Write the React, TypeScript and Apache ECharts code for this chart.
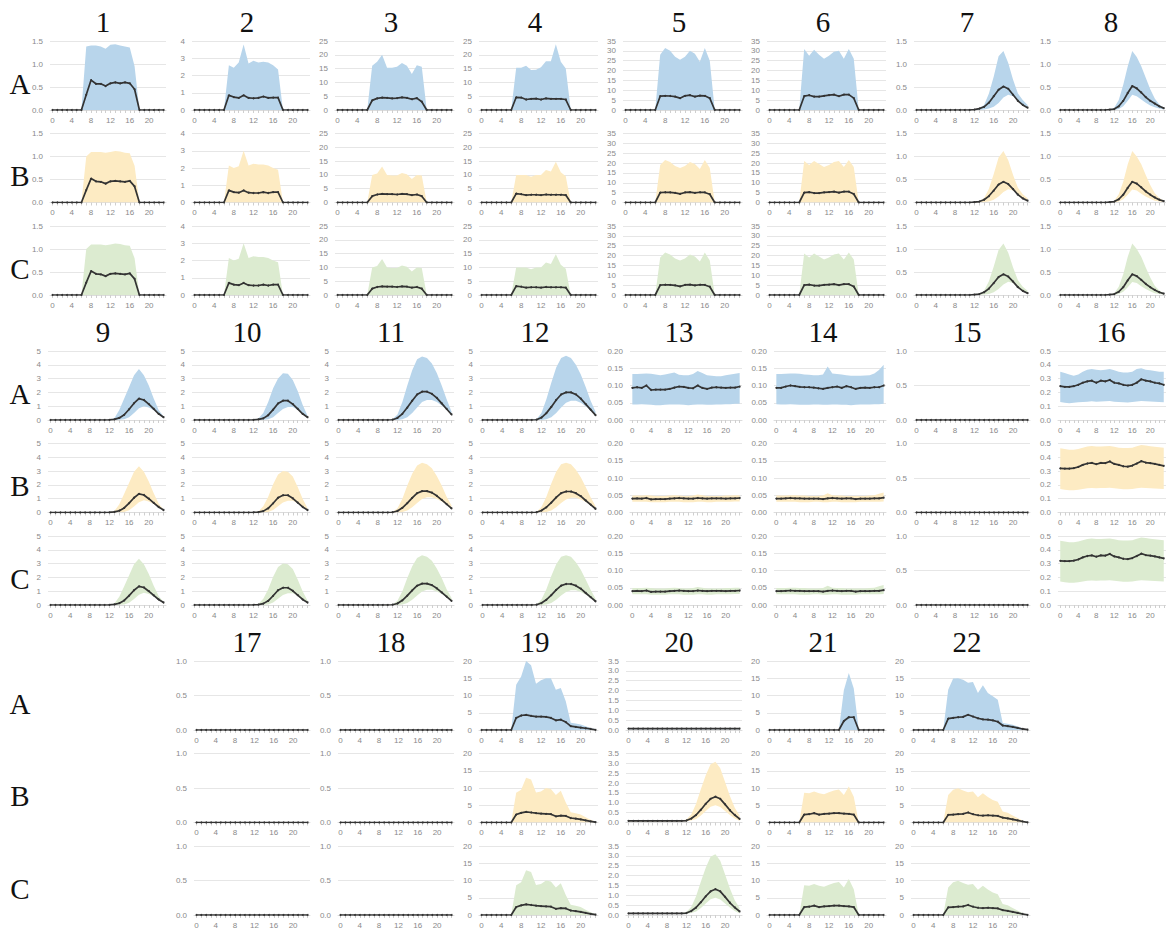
import React, { useEffect, useRef } from 'react';
import * as echarts from 'echarts';

// ---------- categories & axes ----------
const HOURS = ['0','1','2','3','4','5','6','7','8','9','10','11','12','13','14','15','16','17','18','19','20','21','22','23'];
const PANEL_LABELS = ['1','2','3','4','5','6','7','8','9','10','11','12','13','14','15','16','17','18','19','20','21','22'];
const ROW_LABELS = ['A', 'B', 'C'];
const Y_MAX = [1.5, 4, 25, 25, 35, 35, 1.5, 1.5, 5, 5, 5, 5, 0.2, 0.2, 1, 0.5, 1, 1, 20, 3.5, 20, 20];
const Y_STEP = [0.5, 1, 5, 5, 5, 5, 0.5, 0.5, 1, 1, 1, 1, 0.05, 0.05, 0.5, 0.1, 0.5, 0.5, 5, 0.5, 5, 5];

// ---------- data (lower bound, mean, upper bound per hour) ----------
const ZERO = [0,0,0,0,0,0,0,0,0,0,0,0,0,0,0,0,0,0,0,0,0,0,0,0];

const m1A = [0,0,0,0,0,0,0,0.33,0.65,0.57,0.57,0.52,0.58,0.6,0.58,0.6,0.58,0.45,0,0,0,0,0,0];
const hi1A = [0,0,0,0,0,0,0,1.38,1.4,1.4,1.38,1.33,1.42,1.43,1.4,1.38,1.36,0.95,0,0,0,0,0,0];
const m1B = [0,0,0,0,0,0,0,0.27,0.52,0.46,0.45,0.41,0.46,0.47,0.46,0.45,0.47,0.35,0,0,0,0,0,0];
const hi1B = [0,0,0,0,0,0,0,1.0,1.1,1.1,1.1,1.08,1.1,1.12,1.11,1.08,1.07,0.8,0,0,0,0,0,0];

const m2A = [0,0,0,0,0,0,0,0.85,0.75,0.7,0.85,0.7,0.68,0.7,0.78,0.7,0.72,0.72,0,0,0,0,0,0];
const hi2A = [0,0,0,0,0,0,0,2.6,2.45,2.75,3.8,2.7,2.85,2.75,2.8,2.75,2.6,2.35,0,0,0,0,0,0];
const m2B = [0,0,0,0,0,0,0,0.7,0.6,0.57,0.7,0.57,0.55,0.55,0.6,0.55,0.6,0.6,0,0,0,0,0,0];
const hi2B = [0,0,0,0,0,0,0,2.15,2.0,2.1,3.0,2.15,2.25,2.2,2.2,2.15,2.0,1.9,0,0,0,0,0,0];

const m3A = [0,0,0,0,0,0,0,3.5,4.2,4.5,4.4,4.2,4.3,4.6,4.4,3.9,4.3,3.0,0,0,0,0,0,0];
const hi3A = [0,0,0,0,0,0,0,16,17.5,20,15.3,15.3,15.7,17,16,13,16.2,15.7,0,0,0,0,0,0];
const m3B = [0,0,0,0,0,0,0,2.3,2.9,3.1,3.0,3.0,2.9,3.1,3.0,2.7,2.9,2.3,0,0,0,0,0,0];
const hi3B = [0,0,0,0,0,0,0,10,10.5,13,10,9.8,9.8,10.7,10.2,8.5,10,9.8,0,0,0,0,0,0];

const m4A = [0,0,0,0,0,0,0,4.6,4.5,3.8,4.0,4.1,3.8,4.2,4.0,4.0,4.0,3.8,0,0,0,0,0,0];
const hi4A = [0,0,0,0,0,0,0,15.3,15.3,16,14.5,14.6,15.5,17.7,17.7,23.8,17.5,15,0,0,0,0,0,0];
const m4B = [0,0,0,0,0,0,0,3.2,3.0,2.7,2.8,2.8,2.7,2.9,2.8,2.8,2.8,2.7,0,0,0,0,0,0];
const hi4B = [0,0,0,0,0,0,0,10,10,10,9.3,10,10,11.8,11.2,14.8,11,9.5,0,0,0,0,0,0];

const m5A = [0,0,0,0,0,0,0,7,7.2,7.1,6.8,6.0,7.2,7.5,6.8,7.3,7.2,6.0,0,0,0,0,0,0];
const hi5A = [0,0,0,0,0,0,0,28,31.5,30,27,25.5,27,30,28.5,24.5,31.5,25,0,0,0,0,0,0];
const m5B = [0,0,0,0,0,0,0,5,5.2,5.1,4.9,4.4,5.1,5.3,4.9,5.2,5.1,4.2,0,0,0,0,0,0];
const hi5B = [0,0,0,0,0,0,0,19,21.5,20.5,18.5,17.5,18.5,20.5,19.5,17,21.5,17.5,0,0,0,0,0,0];

const m6A = [0,0,0,0,0,0,0,7,7.5,6.8,6.8,7.2,7.5,7.8,7,7.8,7.8,6,0,0,0,0,0,0];
const hi6A = [0,0,0,0,0,0,0,31,27.5,30.5,28,26,27.5,29.5,30,26,31,26,0,0,0,0,0,0];
const m6B = [0,0,0,0,0,0,0,5,5.3,4.8,4.8,5.1,5.3,5.5,5,5.5,5.5,4.3,0,0,0,0,0,0];
const hi6B = [0,0,0,0,0,0,0,21,19,21,19.5,18,19,20.5,21,18,21.5,18,0,0,0,0,0,0];

const lo7A = [0,0,0,0,0,0,0,0,0,0,0,0,0,0,0.01,0.03,0.07,0.15,0.27,0.33,0.3,0.2,0.12,0.06];
const m7A = [0,0,0,0,0,0,0,0,0,0,0,0,0.01,0.03,0.07,0.16,0.3,0.44,0.51,0.46,0.33,0.2,0.11,0.05];
const hi7A = [0,0,0,0,0,0,0,0,0,0,0,0,0.01,0.04,0.11,0.36,0.73,1.17,1.28,1.02,0.66,0.36,0.22,0.11];
const lo7B = [0,0,0,0,0,0,0,0,0,0,0,0,0,0,0.01,0.02,0.06,0.13,0.23,0.29,0.26,0.18,0.1,0.05];
const m7B = [0,0,0,0,0,0,0,0,0,0,0,0,0.01,0.02,0.06,0.14,0.26,0.39,0.45,0.4,0.29,0.17,0.09,0.04];
const hi7B = [0,0,0,0,0,0,0,0,0,0,0,0,0.01,0.03,0.09,0.3,0.62,0.98,1.12,0.92,0.6,0.32,0.18,0.09];

const lo8A = [0,0,0,0,0,0,0,0,0,0,0,0,0,0.02,0.08,0.2,0.33,0.3,0.23,0.16,0.1,0.06,0.03,0.01];
const m8A = [0,0,0,0,0,0,0,0,0,0,0,0.01,0.02,0.08,0.2,0.37,0.52,0.47,0.38,0.28,0.2,0.14,0.08,0.04];
const hi8A = [0,0,0,0,0,0,0,0,0,0,0,0.01,0.05,0.22,0.55,0.95,1.28,1.15,0.95,0.7,0.45,0.25,0.12,0.05];
const lo8B = [0,0,0,0,0,0,0,0,0,0,0,0,0,0.02,0.07,0.17,0.28,0.26,0.19,0.13,0.08,0.04,0.02,0.01];
const m8B = [0,0,0,0,0,0,0,0,0,0,0,0.01,0.02,0.07,0.17,0.32,0.45,0.41,0.33,0.24,0.17,0.11,0.06,0.03];
const hi8B = [0,0,0,0,0,0,0,0,0,0,0,0.01,0.04,0.18,0.45,0.83,1.12,1.0,0.83,0.6,0.38,0.2,0.1,0.04];

const lo9A = [0,0,0,0,0,0,0,0,0,0,0,0,0,0,0.01,0.05,0.2,0.5,0.85,1.0,0.9,0.7,0.45,0.25];
const m9A = [0,0,0,0,0,0,0,0,0,0,0,0,0.01,0.05,0.15,0.38,0.78,1.22,1.55,1.45,1.15,0.8,0.45,0.2];
const hi9A = [0,0,0,0,0,0,0,0,0,0,0,0,0.02,0.12,0.72,1.56,2.4,3.25,3.7,3.25,2.5,1.56,0.72,0.25];
const lo9B = [0,0,0,0,0,0,0,0,0,0,0,0,0,0,0.01,0.04,0.17,0.44,0.75,0.88,0.8,0.62,0.4,0.22];
const m9B = [0,0,0,0,0,0,0,0,0,0,0,0,0.01,0.04,0.13,0.33,0.68,1.07,1.35,1.27,1.0,0.7,0.4,0.18];
const hi9B = [0,0,0,0,0,0,0,0,0,0,0,0,0.02,0.1,0.6,1.35,2.15,2.95,3.35,2.95,2.25,1.4,0.65,0.22];

const lo10A = [0,0,0,0,0,0,0,0,0,0,0,0,0,0,0.01,0.05,0.2,0.5,0.8,0.95,0.95,0.75,0.5,0.25];
const m10A = [0,0,0,0,0,0,0,0,0,0,0,0,0.01,0.04,0.12,0.35,0.75,1.2,1.4,1.4,1.15,0.8,0.45,0.2];
const hi10A = [0,0,0,0,0,0,0,0,0,0,0,0,0.01,0.1,0.5,1.3,2.3,3.0,3.38,3.35,2.9,2.1,1.1,0.3];
const lo10B = [0,0,0,0,0,0,0,0,0,0,0,0,0,0,0.01,0.04,0.18,0.45,0.72,0.85,0.85,0.67,0.45,0.22];
const m10B = [0,0,0,0,0,0,0,0,0,0,0,0,0.01,0.03,0.1,0.3,0.67,1.07,1.25,1.25,1.03,0.72,0.4,0.18];
const hi10B = [0,0,0,0,0,0,0,0,0,0,0,0,0.01,0.07,0.45,1.15,2.05,2.75,3.0,2.95,2.6,1.85,1.0,0.3];

const lo11A = [0,0,0,0,0,0,0,0,0,0,0,0,0,0.05,0.2,0.5,0.9,1.3,1.45,1.45,1.3,1.05,0.75,0.45];
const m11A = [0,0,0,0,0,0,0,0,0,0,0,0.02,0.15,0.45,0.9,1.4,1.85,2.05,2.05,1.9,1.6,1.2,0.8,0.4];
const hi11A = [0,0,0,0,0,0,0,0,0,0,0,0.05,0.4,1.3,2.5,3.6,4.4,4.6,4.5,4.1,3.4,2.5,1.5,0.6];
const lo11B = [0,0,0,0,0,0,0,0,0,0,0,0,0,0.04,0.15,0.38,0.68,0.98,1.1,1.1,0.98,0.8,0.57,0.34];
const m11B = [0,0,0,0,0,0,0,0,0,0,0,0.02,0.11,0.34,0.68,1.06,1.4,1.55,1.55,1.44,1.21,0.91,0.6,0.3];
const hi11B = [0,0,0,0,0,0,0,0,0,0,0,0.04,0.3,1.0,1.95,2.8,3.4,3.6,3.5,3.2,2.65,1.95,1.15,0.5];

const lo12A = [0,0,0,0,0,0,0,0,0,0,0,0,0,0.05,0.2,0.5,0.9,1.25,1.4,1.4,1.25,1.0,0.7,0.42];
const m12A = [0,0,0,0,0,0,0,0,0,0,0,0.02,0.18,0.5,0.95,1.45,1.85,2.0,2.0,1.85,1.55,1.15,0.75,0.35];
const hi12A = [0,0,0,0,0,0,0,0,0,0,0,0.05,0.5,1.5,2.7,3.8,4.5,4.65,4.5,4.0,3.3,2.4,1.4,0.6];
const lo12B = [0,0,0,0,0,0,0,0,0,0,0,0,0,0.04,0.15,0.38,0.68,0.95,1.06,1.06,0.95,0.76,0.53,0.32];
const m12B = [0,0,0,0,0,0,0,0,0,0,0,0.02,0.14,0.38,0.72,1.1,1.4,1.52,1.52,1.4,1.18,0.87,0.57,0.27];
const hi12B = [0,0,0,0,0,0,0,0,0,0,0,0.04,0.4,1.15,2.1,2.95,3.5,3.6,3.5,3.1,2.55,1.85,1.1,0.45];

const lo13A = [0.045,0.045,0.046,0.045,0.044,0.043,0.043,0.044,0.045,0.045,0.045,0.044,0.043,0.044,0.045,0.045,0.044,0.044,0.045,0.045,0.046,0.046,0.047,0.047];
const m13A = [0.093,0.095,0.093,0.1,0.087,0.088,0.088,0.088,0.09,0.094,0.097,0.096,0.093,0.092,0.1,0.093,0.09,0.094,0.095,0.094,0.093,0.094,0.094,0.097];
const hi13A = [0.133,0.133,0.134,0.135,0.134,0.132,0.13,0.132,0.135,0.138,0.131,0.13,0.13,0.133,0.142,0.136,0.13,0.128,0.127,0.127,0.13,0.132,0.134,0.136];
const lo13B = [0.031,0.031,0.031,0.031,0.03,0.03,0.03,0.03,0.031,0.031,0.031,0.03,0.03,0.03,0.031,0.031,0.03,0.03,0.031,0.031,0.031,0.031,0.032,0.032];
const m13B = [0.04,0.041,0.04,0.042,0.038,0.039,0.039,0.039,0.04,0.041,0.042,0.041,0.04,0.04,0.042,0.041,0.04,0.041,0.041,0.041,0.04,0.041,0.041,0.042];
const hi13B = [0.049,0.049,0.049,0.05,0.049,0.048,0.048,0.048,0.049,0.05,0.049,0.048,0.048,0.049,0.052,0.05,0.048,0.048,0.048,0.048,0.049,0.049,0.05,0.05];

const lo14A = [0.046,0.045,0.045,0.046,0.045,0.044,0.044,0.044,0.045,0.045,0.044,0.044,0.045,0.045,0.044,0.044,0.043,0.044,0.045,0.045,0.045,0.046,0.046,0.047];
const m14A = [0.093,0.093,0.097,0.1,0.098,0.096,0.095,0.095,0.094,0.092,0.09,0.093,0.095,0.097,0.093,0.098,0.095,0.09,0.093,0.094,0.093,0.095,0.095,0.1];
const hi14A = [0.133,0.133,0.134,0.135,0.135,0.134,0.132,0.131,0.13,0.13,0.132,0.155,0.135,0.133,0.132,0.13,0.128,0.128,0.128,0.129,0.13,0.135,0.145,0.16];
const lo14B = [0.031,0.031,0.031,0.031,0.031,0.03,0.03,0.03,0.031,0.031,0.03,0.03,0.031,0.031,0.03,0.03,0.03,0.03,0.031,0.031,0.031,0.031,0.031,0.032];
const m14B = [0.04,0.04,0.041,0.042,0.041,0.041,0.04,0.04,0.04,0.04,0.039,0.041,0.042,0.041,0.04,0.041,0.041,0.039,0.04,0.04,0.04,0.041,0.041,0.043];
const hi14B = [0.049,0.049,0.049,0.05,0.05,0.049,0.049,0.048,0.048,0.048,0.049,0.056,0.05,0.049,0.049,0.048,0.048,0.048,0.048,0.048,0.049,0.05,0.054,0.058];

const lo16A = [0.13,0.125,0.122,0.125,0.128,0.13,0.133,0.135,0.133,0.134,0.135,0.137,0.133,0.13,0.128,0.127,0.13,0.134,0.138,0.136,0.134,0.132,0.13,0.128];
const m16A = [0.245,0.24,0.24,0.245,0.255,0.27,0.28,0.285,0.27,0.285,0.28,0.29,0.27,0.265,0.255,0.25,0.255,0.27,0.295,0.285,0.28,0.27,0.265,0.255];
const hi16A = [0.35,0.34,0.33,0.32,0.33,0.35,0.365,0.37,0.365,0.36,0.365,0.37,0.36,0.35,0.345,0.345,0.35,0.37,0.375,0.365,0.36,0.355,0.35,0.35];
const lo16B = [0.17,0.165,0.162,0.162,0.165,0.17,0.175,0.178,0.175,0.178,0.178,0.18,0.175,0.172,0.168,0.168,0.17,0.175,0.18,0.178,0.176,0.174,0.172,0.17];
const m16B = [0.32,0.318,0.318,0.322,0.33,0.345,0.355,0.36,0.35,0.36,0.358,0.37,0.352,0.345,0.335,0.333,0.34,0.355,0.372,0.362,0.358,0.352,0.345,0.338];
const hi16B = [0.465,0.46,0.455,0.455,0.46,0.47,0.478,0.482,0.478,0.478,0.48,0.482,0.476,0.47,0.467,0.467,0.47,0.48,0.49,0.485,0.48,0.477,0.473,0.47];

const m19A = [0,0,0,0,0,0,0,3.5,4.2,4.4,4.1,3.9,3.9,3.8,3.5,2.8,3.0,2.3,1.1,0.9,0.7,0.5,0.3,0.05];
const hi19A = [0,0,0,0,0,0,0,13.1,15.5,20,18.8,13.4,14.4,15,15,11.7,12.2,8.3,2.1,1.9,1.6,1.1,0.6,0.2];
const m19B = [0,0,0,0,0,0,0,2.3,2.8,3.1,2.9,2.7,2.6,2.5,2.4,1.8,2.0,1.9,1.3,1.1,0.9,0.6,0.35,0.1];
const hi19B = [0,0,0,0,0,0,0,8.6,9.5,13,12.5,8.7,9,10,9.7,8,9.2,5.8,3,2.7,2.3,1.5,0.8,0.2];

const lo20A = [0.04,0.04,0.04,0.04,0.04,0.04,0.04,0.04,0.04,0.04,0.04,0.04,0.04,0.04,0.04,0.04,0.04,0.04,0.04,0.04,0.04,0.04,0.04,0.04];
const m20A = [0.07,0.07,0.07,0.07,0.07,0.07,0.07,0.07,0.07,0.07,0.07,0.07,0.07,0.07,0.07,0.07,0.07,0.07,0.07,0.07,0.07,0.07,0.07,0.07];
const hi20A = [0.1,0.1,0.1,0.1,0.1,0.1,0.1,0.1,0.1,0.1,0.1,0.1,0.1,0.1,0.1,0.1,0.1,0.1,0.1,0.1,0.1,0.1,0.1,0.1];
const lo20B = [0.05,0.05,0.05,0.05,0.05,0.05,0.05,0.05,0.05,0.05,0.05,0.05,0.06,0.1,0.18,0.35,0.58,0.8,0.88,0.78,0.58,0.38,0.2,0.08];
const m20B = [0.08,0.08,0.08,0.08,0.08,0.08,0.08,0.08,0.08,0.08,0.08,0.08,0.1,0.2,0.38,0.65,0.95,1.2,1.31,1.2,0.92,0.62,0.38,0.18];
const hi20B = [0.1,0.1,0.1,0.1,0.1,0.1,0.1,0.1,0.1,0.1,0.1,0.1,0.15,0.4,0.95,1.7,2.4,2.95,3.08,2.75,2.05,1.35,0.75,0.35];

const m21A = [0,0,0,0,0,0,0,0,0,0,0,0,0,0,0,2.6,3.7,3.7,0,0,0,0,0,0];
const hi21A = [0,0,0,0,0,0,0,0,0,0,0,0,0,0,0,11.5,16.5,12,0,0,0,0,0,0];
const m21B = [0,0,0,0,0,0,0,2.3,2.4,2.7,2.3,2.5,2.6,2.7,2.7,2.6,2.5,2.3,0,0,0,0,0,0];
const hi21B = [0,0,0,0,0,0,0,8.6,8.5,9,8.5,8.2,8.8,9.3,9.6,8,10.4,7.5,0,0,0,0,0,0];

const m22A = [0,0,0,0,0,0,0,3.3,3.5,3.7,3.8,4.4,3.9,3.4,3.1,3.0,2.8,2.4,1.3,1.1,0.9,0.6,0.3,0.1];
const hi22A = [0,0,0,0,0,0,0,11.7,14.9,15,14.6,13.7,13.9,10.7,13,10.7,9.8,8.8,2,1.8,1.5,1,0.5,0.1];
const m22B = [0,0,0,0,0,0,0,2.2,2.3,2.4,2.5,2.9,2.4,2.1,2.0,2.1,2.0,1.9,1.4,1.2,0.9,0.6,0.3,0.05];
const hi22B = [0,0,0,0,0,0,0,8,9.5,9.9,9.3,8.8,9,7.3,8.5,7.4,6.5,6,3.2,2.8,2.0,1.3,0.6,0.1];

// rows per panel: [A, B, C], each [lower, mean, upper]
const PANEL_ROWS: number[][][][] = [
  [[ZERO, m1A, hi1A], [ZERO, m1B, hi1B], [ZERO, m1B, hi1B]],
  [[ZERO, m2A, hi2A], [ZERO, m2B, hi2B], [ZERO, m2B, hi2B]],
  [[ZERO, m3A, hi3A], [ZERO, m3B, hi3B], [ZERO, m3B, hi3B]],
  [[ZERO, m4A, hi4A], [ZERO, m4B, hi4B], [ZERO, m4B, hi4B]],
  [[ZERO, m5A, hi5A], [ZERO, m5B, hi5B], [ZERO, m5B, hi5B]],
  [[ZERO, m6A, hi6A], [ZERO, m6B, hi6B], [ZERO, m6B, hi6B]],
  [[lo7A, m7A, hi7A], [lo7B, m7B, hi7B], [lo7B, m7B, hi7B]],
  [[lo8A, m8A, hi8A], [lo8B, m8B, hi8B], [lo8B, m8B, hi8B]],
  [[lo9A, m9A, hi9A], [lo9B, m9B, hi9B], [lo9B, m9B, hi9B]],
  [[lo10A, m10A, hi10A], [lo10B, m10B, hi10B], [lo10B, m10B, hi10B]],
  [[lo11A, m11A, hi11A], [lo11B, m11B, hi11B], [lo11B, m11B, hi11B]],
  [[lo12A, m12A, hi12A], [lo12B, m12B, hi12B], [lo12B, m12B, hi12B]],
  [[lo13A, m13A, hi13A], [lo13B, m13B, hi13B], [lo13B, m13B, hi13B]],
  [[lo14A, m14A, hi14A], [lo14B, m14B, hi14B], [lo14B, m14B, hi14B]],
  [[ZERO, ZERO, ZERO], [ZERO, ZERO, ZERO], [ZERO, ZERO, ZERO]],
  [[lo16A, m16A, hi16A], [lo16B, m16B, hi16B], [lo16B, m16B, hi16B]],
  [[ZERO, ZERO, ZERO], [ZERO, ZERO, ZERO], [ZERO, ZERO, ZERO]],
  [[ZERO, ZERO, ZERO], [ZERO, ZERO, ZERO], [ZERO, ZERO, ZERO]],
  [[ZERO, m19A, hi19A], [ZERO, m19B, hi19B], [ZERO, m19B, hi19B]],
  [[lo20A, m20A, hi20A], [lo20B, m20B, hi20B], [lo20B, m20B, hi20B]],
  [[ZERO, m21A, hi21A], [ZERO, m21B, hi21B], [ZERO, m21B, hi21B]],
  [[ZERO, m22A, hi22A], [ZERO, m22B, hi22B], [ZERO, m22B, hi22B]],
];

// ---------- style & layout ----------
const BAND_COLORS = ['#b8d5eb', '#fdebc3', '#dcebd0'];
const LINE_COLOR = '#333333';
const SERIF = 'Liberation Serif';
const SANS = 'Liberation Sans';
const COL_PITCH = 144;
const BLOCK_PITCH = 310;
const ROW_PITCH = 92.5;
const GRID_H = 69;
const LABEL_OFFSET: Record<number, number> = { 1: -2, 2: -3, 3: 0, 4: 4 };

function panelPos(i: number) {
  if (i < 8) return { block: 0, col: i };
  if (i < 16) return { block: 1, col: i - 8 };
  return { block: 2, col: i - 16 + 1 };
}
function decimals(step: number) {
  if (step >= 1) return 0;
  if (step >= 0.1) return 1;
  return 2;
}

function bigText(text: string, x: number, y: number) {
  return {
    type: 'text',
    x,
    y,
    style: {
      text,
      fontSize: 29,
      fontFamily: SERIF,
      fill: '#111',
      textAlign: 'center',
      textVerticalAlign: 'middle',
      align: 'center',
      verticalAlign: 'middle',
    },
  };
}

function buildOption() {
  const grid: any[] = [];
  const xAxis: any[] = [];
  const yAxis: any[] = [];
  const series: any[] = [];
  const graphic: any[] = [];
  let gi = 0;

  PANEL_LABELS.forEach((lab, p) => {
    const { block, col } = panelPos(p);
    const dec = decimals(Y_STEP[p]);
    const chars = Y_MAX[p].toFixed(dec).length;
    const left = 50 + COL_PITCH * col + (LABEL_OFFSET[chars] ?? 0);
    const right = 166 + COL_PITCH * col;

    graphic.push(bigText(lab, 103 + COL_PITCH * col, 21.7 + BLOCK_PITCH * block));

    PANEL_ROWS[p].forEach((rowData, r) => {
      const [lo, mean, hi] = rowData;
      const top = 41 + BLOCK_PITCH * block + ROW_PITCH * r;
      grid.push({ left, top, width: right - left, height: GRID_H });
      xAxis.push({
        type: 'category',
        gridIndex: gi,
        data: HOURS,
        boundaryGap: true,
        axisLine: { show: true, lineStyle: { color: '#dcdcdc', width: 1 } },
        axisTick: { show: true, interval: 0, alignWithLabel: true, length: 3, lineStyle: { color: '#cfcfcf' } },
        axisLabel: { interval: 3, fontSize: 8, color: '#8a8a8a', margin: 6, fontFamily: SANS },
        splitLine: { show: false },
      });
      yAxis.push({
        type: 'value',
        gridIndex: gi,
        min: 0,
        max: Y_MAX[p],
        interval: Y_STEP[p],
        axisLine: { show: false },
        axisTick: { show: false },
        axisLabel: {
          fontSize: 8,
          color: '#8a8a8a',
          margin: 7,
          fontFamily: SANS,
          formatter: (v: number) => v.toFixed(dec),
        },
        splitLine: { show: true, lineStyle: { color: '#e6e6e6', width: 1.2 } },
      });
      const stack = 'band' + gi;
      series.push({
        type: 'line',
        xAxisIndex: gi,
        yAxisIndex: gi,
        data: lo,
        stack,
        symbol: 'none',
        silent: true,
        lineStyle: { opacity: 0, width: 0 },
      });
      series.push({
        type: 'line',
        xAxisIndex: gi,
        yAxisIndex: gi,
        data: hi.map((v, k) => Math.max(0, v - lo[k])),
        stack,
        symbol: 'none',
        silent: true,
        lineStyle: { opacity: 0, width: 0 },
        areaStyle: { color: BAND_COLORS[r], opacity: 1 },
      });
      series.push({
        type: 'line',
        xAxisIndex: gi,
        yAxisIndex: gi,
        data: mean,
        symbol: 'circle',
        symbolSize: 2,
        showSymbol: true,
        silent: true,
        itemStyle: { color: LINE_COLOR },
        lineStyle: { color: LINE_COLOR, width: 1.7 },
      });
      gi += 1;
    });
  });

  for (let b = 0; b < 3; b++) {
    ROW_LABELS.forEach((rl, r) => {
      graphic.push(bigText(rl, 20, 41 + BLOCK_PITCH * b + ROW_PITCH * r + 42.5));
    });
  }

  return {
    animation: false,
    backgroundColor: '#ffffff',
    grid,
    xAxis,
    yAxis,
    series,
    graphic,
  };
}

export default function App() {
  const ref = useRef<HTMLDivElement>(null);
  useEffect(() => {
    if (!ref.current) return;
    const chart = echarts.init(ref.current, undefined, { renderer: 'svg' });
    chart.setOption(buildOption() as any);
    return () => chart.dispose();
  }, []);
  return (
    <div
      ref={ref}
      style={{ position: 'absolute', left: 0, top: 0, width: 1166, height: 939, background: '#fff' }}
    />
  );
}
